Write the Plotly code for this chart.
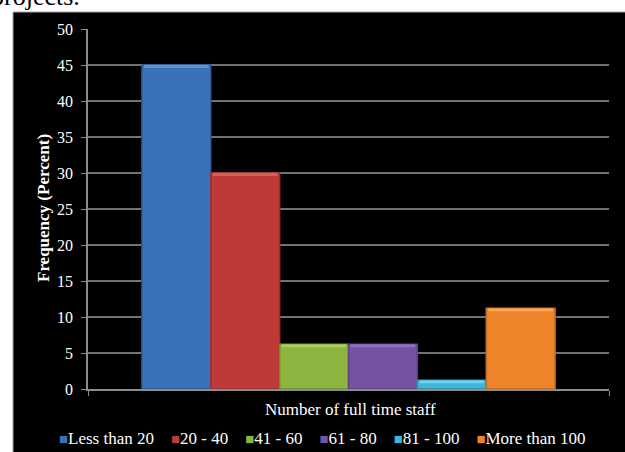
import plotly.graph_objects as go

categories = ["Less than 20", "20 - 40", "41 - 60", "61 - 80", "81 - 100", "More than 100"]
values = [45, 30, 6.2, 6.2, 1.2, 11.2]
colors = ["#3b71b8", "#be3a38", "#8db43f", "#7453a0", "#3fb6d6", "#ee842a"]
edges = ["#2c5a96", "#973030", "#6f9030", "#5c4282", "#3090b0", "#c06a22"]
tops = ["#5a92d8", "#dc5c58", "#a9cc5c", "#9072bc", "#6cd4f0", "#fba650"]
y_ticks = list(range(0, 51, 5))
x_title = "Number of full time staff"
y_title = "Frequency (Percent)"

W, H = 625, 452
ML, MR, MT, MB = 88, 16, 29, 63
PW, PH = W - ML - MR, H - MT - MB
BARGAP = 0.207
UNIT_PER_PX = 50.0 / PH


def px(x):
    return (x - ML) / PW


def py(y):
    return (H - MB - y) / PH


SERIF = "Liberation Serif"

fig = go.Figure()
n = len(categories)
bw = (1 - BARGAP) / n
start = -(1 - BARGAP) / 2
band = 3 * UNIT_PER_PX
for i, (name, v, c, e, t) in enumerate(zip(categories, values, colors, edges, tops)):
    off = start + i * bw
    fig.add_trace(go.Bar(
        x=[0], y=[v], name=name, width=[bw], offset=[off],
        marker=dict(color=c, line=dict(color=e, width=1.5)),
        showlegend=False,
    ))
    fig.add_trace(go.Bar(
        x=[0], y=[band], base=[v - band], name=name, width=[bw * 0.94], offset=[off + bw * 0.03],
        marker=dict(color=t, line=dict(width=0)),
        showlegend=False, hoverinfo="skip",
    ))

# black chart area background
fig.add_shape(type="rect", xref="paper", yref="paper",
              x0=px(13), x1=px(640), y0=py(470), y1=py(12),
              fillcolor="black", line=dict(color="#a8a8a8", width=1), layer="below")

annotations = []
annotations.append(dict(text="<b>" + y_title + "</b>", textangle=-90, xref="paper", yref="paper",
                        x=px(43), y=py(208), showarrow=False,
                        font=dict(family=SERIF, size=17, color="white"),
                        xanchor="center", yanchor="middle"))
annotations.append(dict(text=x_title, xref="paper", yref="paper",
                        x=px(350), y=py(409), showarrow=False,
                        font=dict(family=SERIF, size=17, color="white"),
                        xanchor="center", yanchor="middle"))
legend_parts = []
for name, c in zip(categories, colors):
    legend_parts.append("<span style='color:%s;font-size:15px'>■</span>%s" % (c, name))
annotations.append(dict(text="&nbsp;&nbsp;&nbsp;&nbsp;".join(legend_parts), xref="paper", yref="paper",
                        x=px(322), y=py(438), showarrow=False,
                        font=dict(family=SERIF, size=17, color="white"),
                        xanchor="center", yanchor="middle"))
annotations.append(dict(text="projects.", xref="paper", yref="paper",
                        x=px(82), y=py(13), showarrow=False,
                        font=dict(family=SERIF, size=26, color="black"),
                        xanchor="right", yanchor="bottom"))

fig.update_layout(
    width=W, height=H,
    margin=dict(l=ML, r=MR, t=MT, b=MB, pad=0),
    paper_bgcolor="white",
    plot_bgcolor="#404040",
    barmode="overlay",
    annotations=annotations,
    xaxis=dict(range=[-0.5, 0.5], tickvals=[-0.5, 0.5], showticklabels=False,
               ticks="outside", ticklen=5, tickcolor="#8c8c8c", tickwidth=1,
               showline=True, linecolor="#8c8c8c", linewidth=1.5,
               showgrid=False, zeroline=False, fixedrange=True),
    yaxis=dict(range=[0, 50], tickvals=y_ticks, ticktext=[str(t) for t in y_ticks],
               ticks="outside", ticklen=5, tickcolor="#8c8c8c", tickwidth=1,
               showline=True, linecolor="#8c8c8c", linewidth=1.5,
               gridcolor="#727272", gridwidth=1.5, zeroline=False,
               tickfont=dict(family=SERIF, size=16, color="white"),
               ticklabelstandoff=5),
)

fig.write_html("out.html")
